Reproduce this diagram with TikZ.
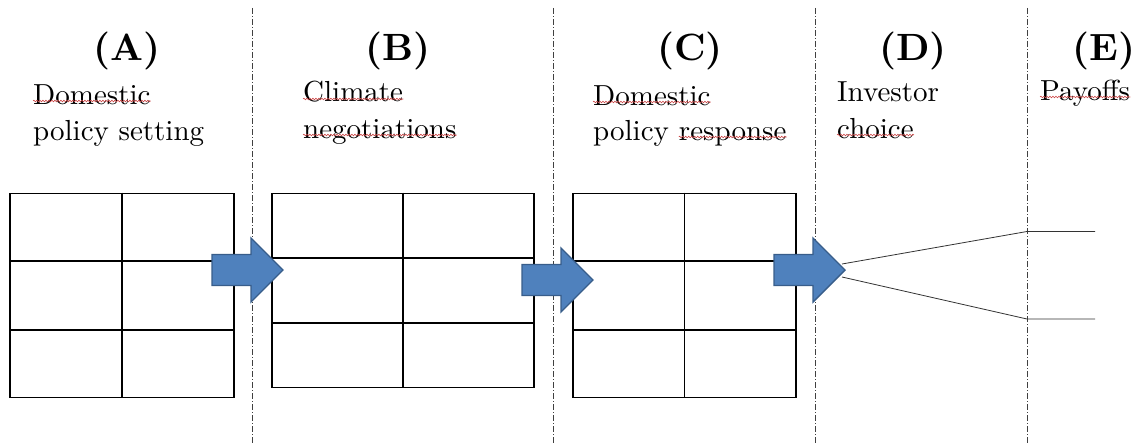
\documentclass[tikz,border=0pt]{standalone}
\usepackage{fontspec}
\setmainfont{lmroman10-regular.otf}[BoldFont=lmroman10-bold.otf]
\usetikzlibrary{calc,decorations.pathmorphing}
\definecolor{arrowfill}{HTML}{4F81BD}
\definecolor{arrowedge}{HTML}{385D8A}
\definecolor{squigred}{RGB}{205,70,70}
\begin{document}
\begin{tikzpicture}[x=1pt,y=-1pt,
  head/.style={font=\fontsize{38}{44}\selectfont\bfseries, inner sep=0pt, anchor=base},
  sub/.style={font=\fontsize{29}{36}\selectfont, inner sep=0pt, anchor=base west},
  gridbox/.style={draw=black, line width=1.8pt, anchor=north west, inner sep=0pt},
  gridline/.style={draw=black, line width=1.8pt},
  divider/.style={draw=black!75, line width=0.8pt, dash pattern=on 6pt off 2pt on 1pt off 2pt},
  squig/.style={draw=squigred, line width=0.6pt, decorate,
    decoration={snake, amplitude=0.8pt, segment length=3pt}},
  barrow/.style={fill=arrowfill, draw=arrowedge, line width=1.4pt, line join=miter},
  branch/.style={draw=black!80, line width=0.8pt},
  blockarrow/.pic={\path[barrow] (-71,-15.5) -- (-32,-15.5) -- (-32,-32) -- (0,0)
      -- (-32,32) -- (-32,15.5) -- (-71,15.5) -- cycle;}
]
\useasboundingbox (0,0) rectangle (1141,444);

% stage headings
\node[head] (hA) at (127,60) {(A)};
\node[head] (hB) at (398,60) {(B)};
\node[head] (hC) at (690,60) {(C)};
\node[head] (hD) at (913,60) {(D)};
\node[head] (hE) at (1104,60) {(E)};

% stage descriptions
\node[sub] (a1) at (33,104) {Domestic};
\node[sub] (a2) at (33,140) {policy setting};
\node[sub] (b1) at (303,102) {Climate};
\node[sub] (b2) at (303,138) {negotiations};
\node[sub] (c1) at (593,105) {Domestic};
\node[sub] (c2a) at (593,140) {policy};
\node[sub, xshift=9.6pt] (c2b) at (c2a.base east) {response};
\node[sub] (d1) at (837,102) {Investor};
\node[sub] (d2) at (837,138) {choice};
\node[sub] (e1) at (1040,100) {Payoffs};

% spelling marks under words
\foreach \w in {a1,b1,b2,c1,c2b,d2,e1}
  \draw[squig] ([yshift=3pt]\w.base west) -- ([yshift=3pt]\w.base east);

% stage dividers
\foreach \x in {252,553,815,1027}
  \draw[divider] (\x,8) -- (\x,444);

% 2x3 tables
\node[gridbox, minimum width=224pt, minimum height=204pt] (gA) at (9,192.5) {};
\node[gridbox, minimum width=262pt, minimum height=194pt] (gB) at (271,192.5) {};
\node[gridbox, minimum width=223pt, minimum height=204pt] (gC) at (572,192.5) {};
\foreach \g in {gA,gB,gC}{
  \draw[gridline] (\g.north) -- (\g.south);
  \draw[gridline] ($(\g.north west)!1/3!(\g.south west)$) -- ($(\g.north east)!1/3!(\g.south east)$);
  \draw[gridline] ($(\g.north west)!2/3!(\g.south west)$) -- ($(\g.north east)!2/3!(\g.south east)$);
}

% investor branches to payoffs
\coordinate (f1) at (842,264);
\coordinate (f2) at (842,277);
\coordinate (p1) at (1027,231.5);
\coordinate (p2) at (1027,319);
\coordinate (p1e) at (1095,231.5);
\coordinate (p2e) at (1095,319);
\draw[branch] (f1) -- (p1) -- (p1e);
\draw[branch] (f2) -- (p2) -- (p2e);

% block arrows between stages
\pic at (283,270) {blockarrow};
\pic at (593,280) {blockarrow};
\pic at (845,270) {blockarrow};
\end{tikzpicture}
\end{document}
